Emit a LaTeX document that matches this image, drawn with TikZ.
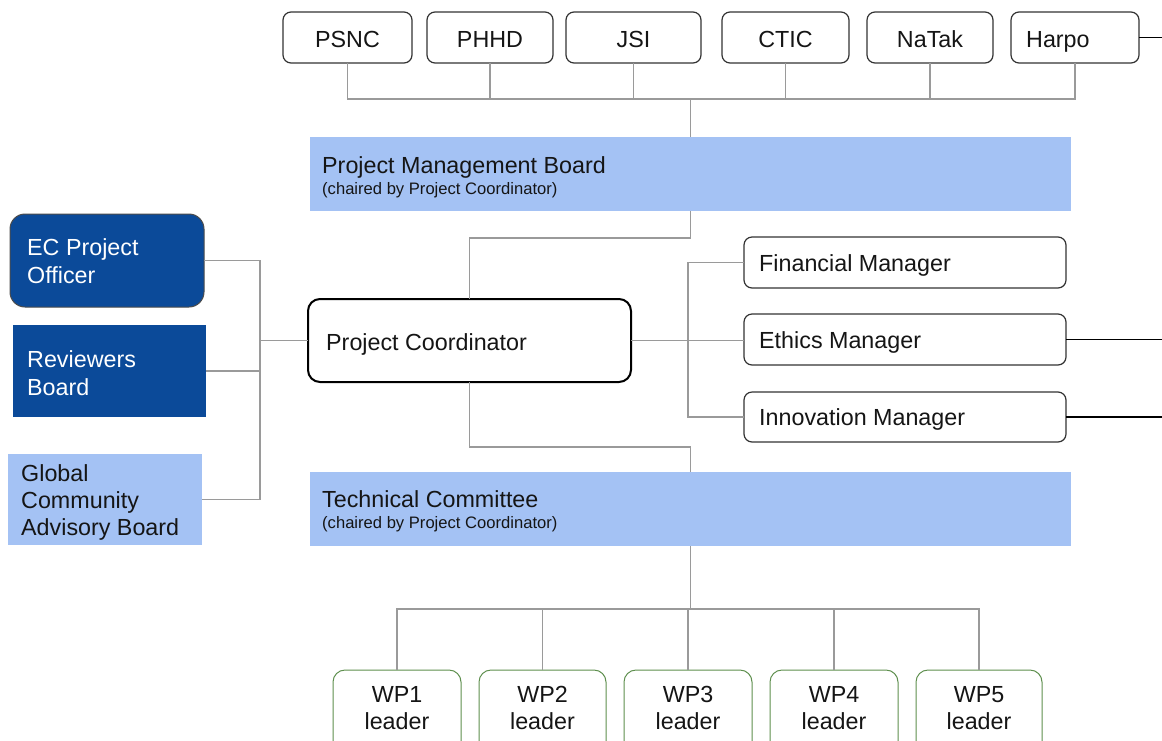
\documentclass[tikz,border=0pt]{standalone}
\usepackage{fontspec}
\setmainfont{Liberation Sans}
\definecolor{lightband}{HTML}{A4C2F4}
\definecolor{darkband}{HTML}{0B4A99}
\definecolor{conngray}{HTML}{9A9A9A}
\definecolor{wpgreen}{HTML}{5E8F4E}
\definecolor{txt}{HTML}{151515}
\begin{document}
\begin{tikzpicture}[x=1pt,y=-1pt,
  box/.style={anchor=north west,inner sep=0pt,outer sep=0pt},
  org/.style={box,draw=black!80,line width=1.2pt,rounded corners=8pt,fill=white},
  coord/.style={box,draw=black,line width=2pt,rounded corners=12pt,fill=white},
  band/.style={box,fill=lightband},
  dark/.style={box,fill=darkband},
  wpbox/.style={box,draw=wpgreen,line width=1pt,rounded corners=12pt,fill=white},
  big/.style={font=\fontsize{23.3}{28}\selectfont,text=txt,inner sep=0pt},
  small/.style={font=\fontsize{16.6}{20}\selectfont,text=txt,inner sep=0pt},
  conn/.style={draw=conngray,line width=1.3pt},
  blk/.style={draw=black,line width=1.3pt}]
\useasboundingbox (0,0) rectangle (1162,740);
\fill[white] (0,0) rectangle (1162,740);

% partner boxes
\node[org,minimum width=129pt,minimum height=51pt] (psnc) at (283,12) {};
\node[org,minimum width=126pt,minimum height=51pt] (phhd) at (427,12) {};
\node[org,minimum width=135pt,minimum height=51pt] (jsi) at (566,12) {};
\node[org,minimum width=127pt,minimum height=51pt] (ctic) at (722,12) {};
\node[org,minimum width=126pt,minimum height=51pt] (natak) at (867,12) {};
\node[org,minimum width=128pt,minimum height=51pt] (harpo) at (1011,12) {};
\node[big,anchor=base] (psncT) at (347.5,47) {PSNC};
\node[big,anchor=base] (phhdT) at (490,47) {PHHD};
\node[big,anchor=base] (jsiT) at (633.5,47) {JSI};
\node[big,anchor=base] (cticT) at (785.5,47) {CTIC};
\node[big,anchor=base] (natakT) at (930,47) {NaTak};
\node[big,anchor=base west] (harpoT) at (1026,47) {Harpo};

% bands
\node[band,minimum width=761pt,minimum height=74pt] (pmb) at (310,137) {};
\node[big,anchor=base west] (pmbT) at (322,173) {Project Management Board};
\node[small,anchor=base west] (pmbS) at (322,194) {(chaired by Project Coordinator)};
\node[band,minimum width=761pt,minimum height=74pt] (tc) at (310,472) {};
\node[big,anchor=base west] (tcT) at (322,507) {Technical Committee};
\node[small,anchor=base west] (tcS) at (322,528) {(chaired by Project Coordinator)};

% coordinator
\node[coord,minimum width=323pt,minimum height=83pt] (pc) at (308,299) {};
\node[big,anchor=base west] (pcT) at (326,350) {Project Coordinator};

% managers
\node[org,minimum width=322pt,minimum height=51pt] (fin) at (744,237) {};
\node[org,minimum width=322pt,minimum height=51pt] (eth) at (744,314) {};
\node[org,minimum width=322pt,minimum height=50pt] (inn) at (744,392) {};
\node[big,anchor=base west] (finT) at (759,271) {Financial Manager};
\node[big,anchor=base west] (ethT) at (759,348) {Ethics Manager};
\node[big,anchor=base west] (innT) at (759,425) {Innovation Manager};

% left boxes
\node[dark,draw=black!70,line width=1pt,rounded corners=15pt,minimum width=194pt,minimum height=93pt] (ec) at (10,214) {};
\node[big,text=white,anchor=base west] (ecT1) at (27,255) {EC Project};
\node[big,text=white,anchor=base west] (ecT2) at (27,283) {Officer};
\node[dark,minimum width=193pt,minimum height=92pt] (rb) at (13,325) {};
\node[big,text=white,anchor=base west] (rbT1) at (27,367) {Reviewers};
\node[big,text=white,anchor=base west] (rbT2) at (27,395) {Board};
\node[band,minimum width=194pt,minimum height=91pt] (gcab) at (8,454) {};
\node[big,anchor=base west] (gcT1) at (21,481) {Global};
\node[big,anchor=base west] (gcT2) at (21,508) {Community};
\node[big,anchor=base west] (gcT3) at (21,535) {Advisory Board};

% WP leaders
\node[wpbox,minimum width=128pt,minimum height=90pt] (wp1) at (333,670) {};
\node[wpbox,minimum width=127pt,minimum height=90pt] (wp2) at (479,670) {};
\node[wpbox,minimum width=128pt,minimum height=90pt] (wp3) at (624,670) {};
\node[wpbox,minimum width=128pt,minimum height=90pt] (wp4) at (770,670) {};
\node[wpbox,minimum width=126pt,minimum height=90pt] (wp5) at (916,670) {};
\foreach \n/\c in {1/397,2/542.5,3/688,4/834,5/979}{
  \node[big,anchor=base] (wp\n T1) at (\c,702) {WP\n};
  \node[big,anchor=base] (wp\n T2) at (\c,729) {leader};
}

% connectors: partners to PMB
\coordinate (tbus) at (690.5,99);
\draw[conn] (psnc.south) |- (harpo.south |- tbus) -- (harpo.south);
\foreach \p in {phhd,jsi,ctic,natak}{\draw[conn] (\p.south) -- (\p.south |- tbus);}
\draw[conn] (tbus) -- (pmb.north);

% PMB to coordinator
\draw[conn] (pmb.south) -- ++(0,27) -| (pc.north);

% coordinator to TC
\draw[conn] (pc.south) -- ++(0,65) -| (tc.north);

% TC to WPs
\coordinate (wbus) at (690.5,609);
\draw[conn] (tc.south) -- (wbus);
\draw[conn] (wp1.north) |- (wp5.north |- wbus) -- (wp5.north);
\foreach \w in {wp2,wp3,wp4}{\draw[conn] (\w.north) -- (\w.north |- wbus);}

% managers
\draw[conn] (fin.west) -- ++(-56,0) |- (inn.west);
\draw[conn] (pc.east) -- (pc.east -| eth.west);

% left side
\draw[conn] (ec.east) -- ++(56,0) |- (gcab.east);
\coordinate (lbus) at (260,0);
\draw[conn] (rb.east) -- (rb.east -| lbus);
\draw[conn] (pc.west) -- (pc.west -| lbus);

% free ends on the right
\coordinate (rend) at (1162,0);
\draw[blk] (harpo.east) -- (harpo.east -| rend);
\draw[blk] (eth.east) -- (eth.east -| rend);
\draw[blk] (inn.east) -- (inn.east -| rend);
\end{tikzpicture}
\end{document}
